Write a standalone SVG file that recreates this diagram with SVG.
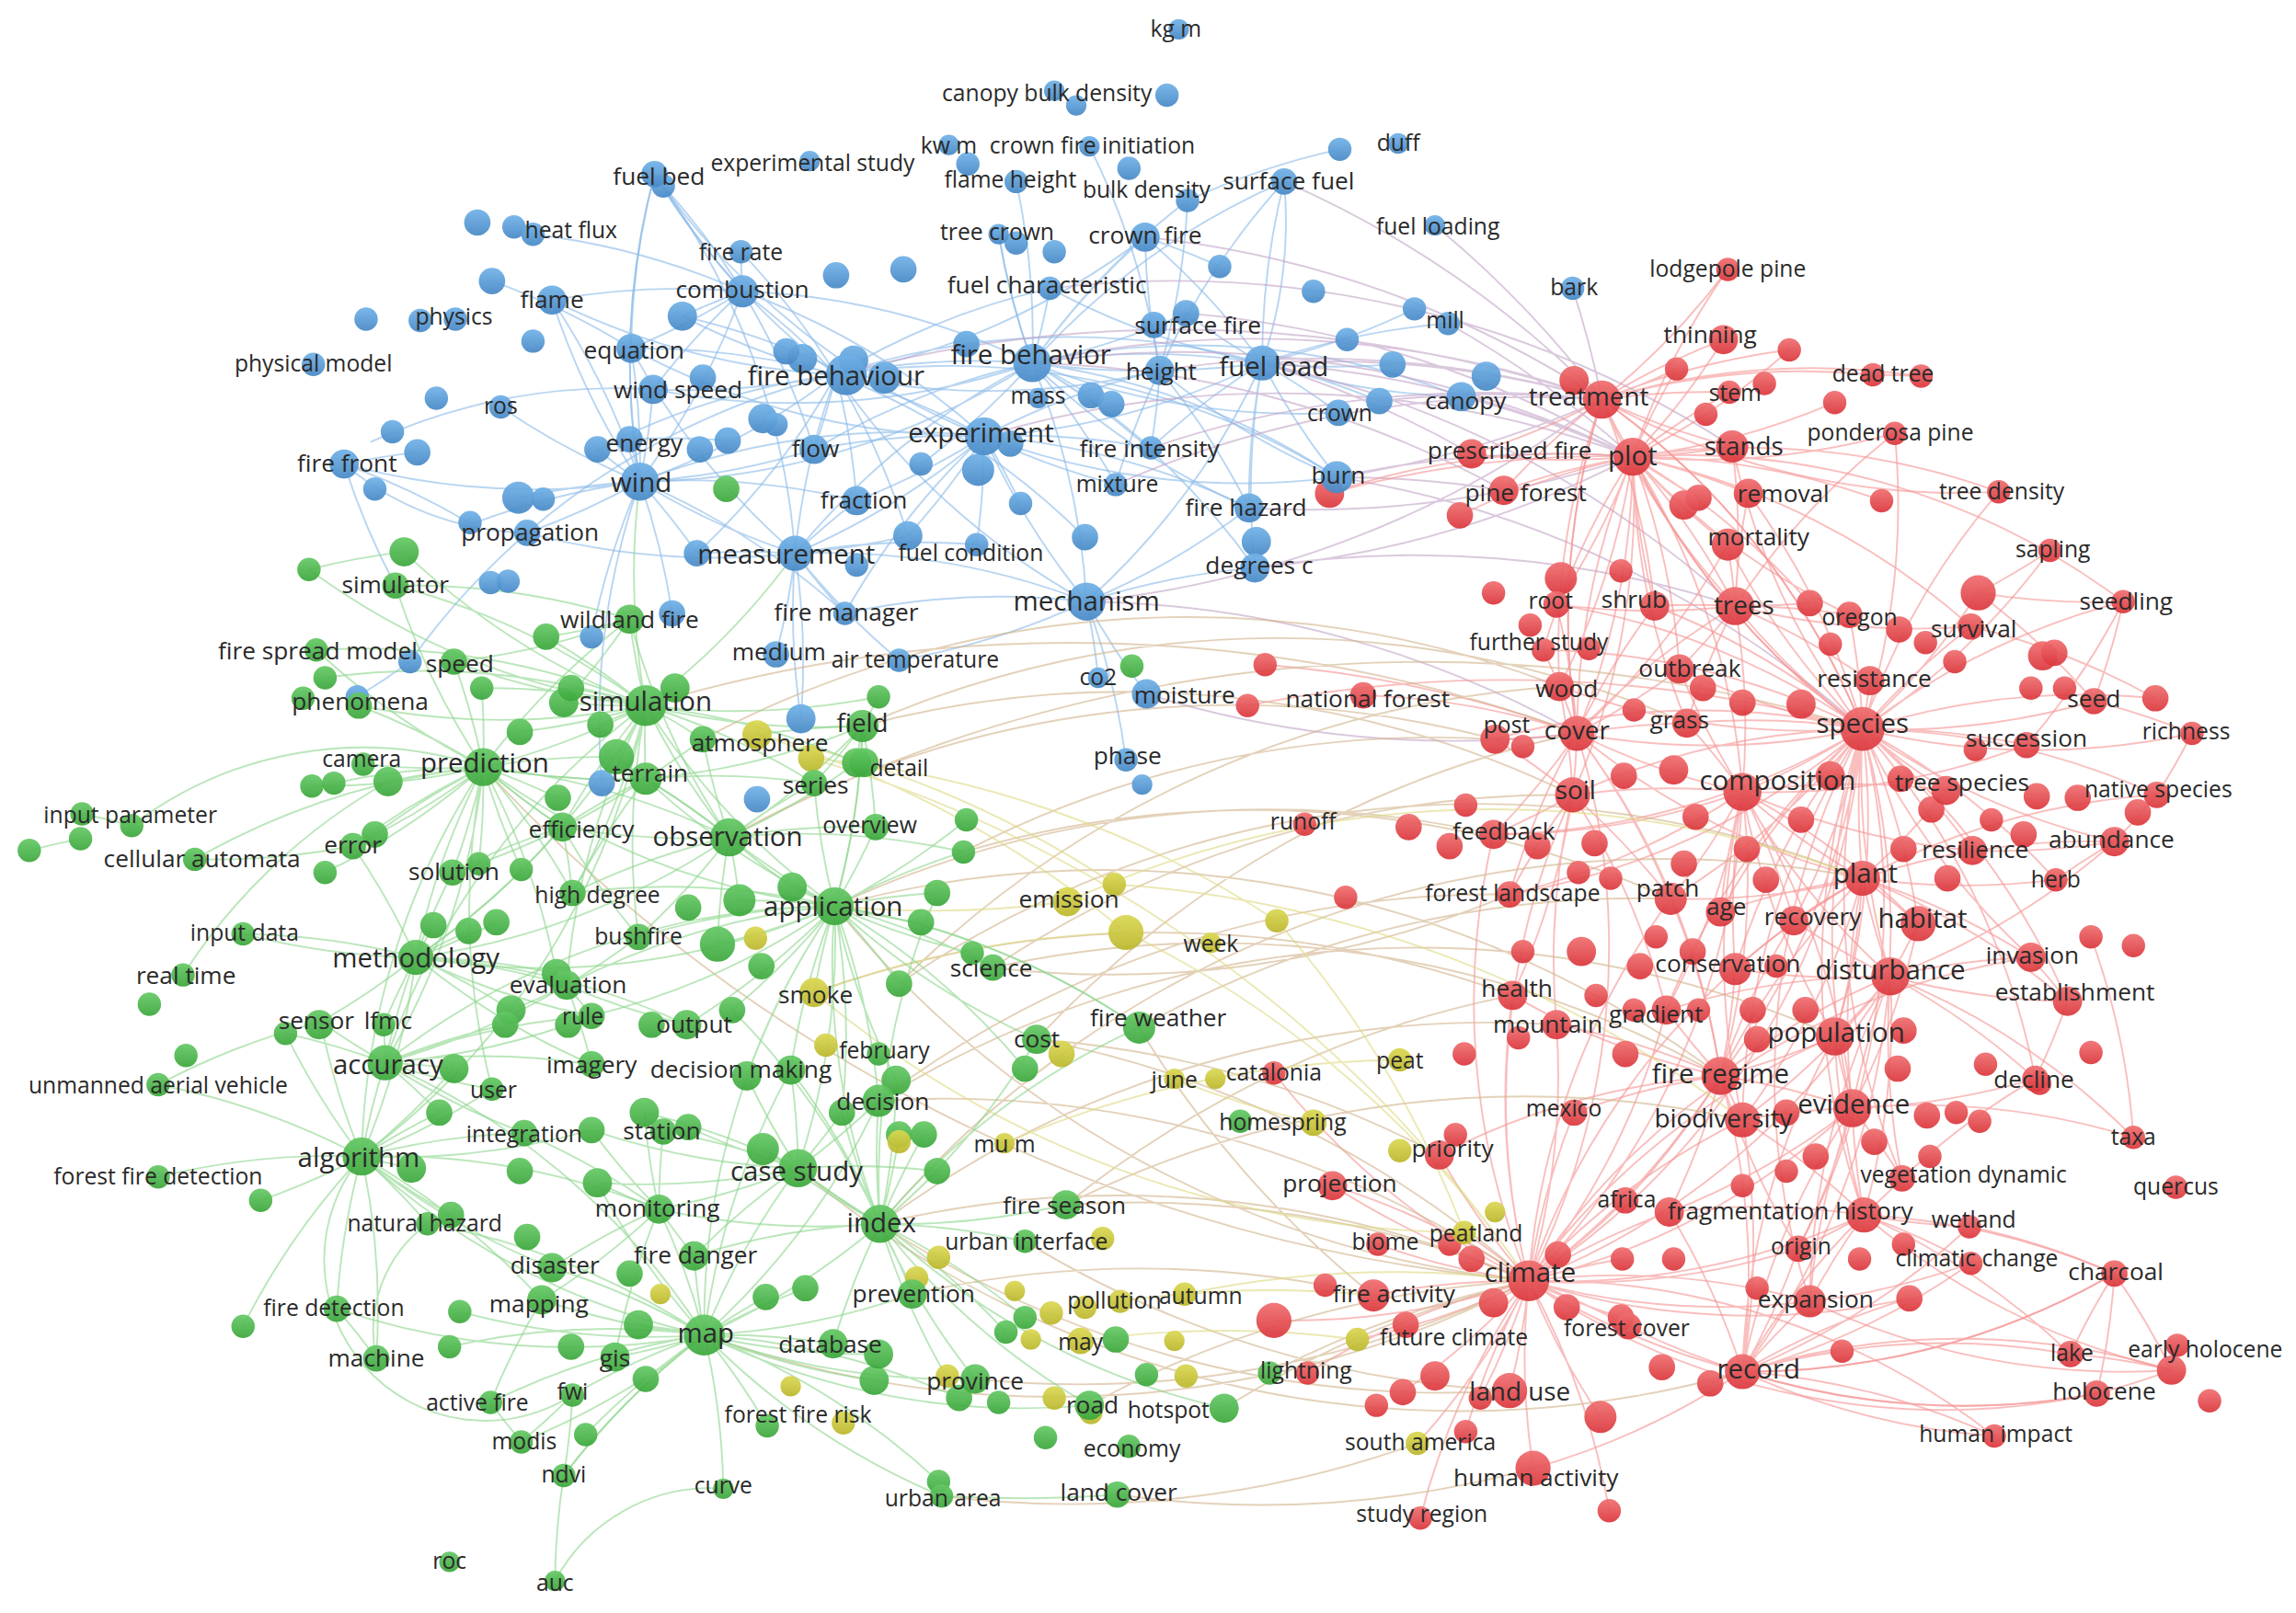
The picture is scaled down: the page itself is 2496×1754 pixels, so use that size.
<svg xmlns="http://www.w3.org/2000/svg" width="2496" height="1754" viewBox="0 0 2496 1754">
<defs>
<linearGradient id="gb" x1="0" y1="0" x2="0" y2="1"><stop offset="0" stop-color="#6fb0e6"/><stop offset="1" stop-color="#4a8bc8"/></linearGradient>
<linearGradient id="gg" x1="0" y1="0" x2="0" y2="1"><stop offset="0" stop-color="#63c763"/><stop offset="1" stop-color="#3ea93e"/></linearGradient>
<linearGradient id="gr" x1="0" y1="0" x2="0" y2="1"><stop offset="0" stop-color="#ef6c6e"/><stop offset="1" stop-color="#dc3a3f"/></linearGradient>
<linearGradient id="gy" x1="0" y1="0" x2="0" y2="1"><stop offset="0" stop-color="#d9d651"/><stop offset="1" stop-color="#bdb92f"/></linearGradient>
<style>
.b{fill:url(#gb);stroke:url(#gb)}.g{fill:url(#gg);stroke:url(#gg)}.r{fill:url(#gr);stroke:url(#gr)}.y{fill:url(#gy);stroke:url(#gy)}
circle{opacity:.93;stroke-width:2}
text{font-family:"Open Sans","Noto Sans","DejaVu Sans",sans-serif;fill:#2a2a2a;text-anchor:middle;dominant-baseline:central}
.s{font-size:15.5px}.m{font-size:16.5px}.ml{font-size:17.5px}.l{font-size:18.5px}
#edges path{fill:none;stroke-width:1.2;opacity:.62}
.eb{stroke:#8cbbe8}.eg{stroke:#8fd68f}.er{stroke:#f59696}.ep{stroke:#c4a6c8}.ebr{stroke:#d2b48e}.ey{stroke:#dfda86}
</style>
</defs>
<rect width="2496" height="1754" fill="#ffffff"/>
<g transform="scale(1.5918)">
<g id="edges">
<path class="eb" d="M571 256A500 500 0 0 1 437 329M571 256A500 500 0 0 0 507 199M571 256A500 500 0 0 1 672 298M571 256A500 500 0 0 1 705 248M571 256A500 500 0 0 0 543 378M571 256A500 500 0 0 1 556 307M571 256A500 500 0 0 1 585 342M571 256A500 500 0 0 1 447 119M571 256A500 500 0 0 1 377 205M571 256A500 500 0 0 0 431 238M571 256A500 500 0 0 1 446 266M571 256A500 500 0 0 0 408 307M571 256A500 500 0 0 1 862 248M571 256A500 500 0 0 0 792 253M571 256A500 500 0 0 1 741 367M571 256A500 500 0 0 1 620 366M571 256A500 500 0 0 0 782 162M571 256A500 500 0 0 1 717 197M571 256A500 500 0 0 0 360 364M571 256A500 500 0 0 1 476 378M571 256A500 500 0 0 0 742 411M571 256A500 500 0 0 1 466 216M571 256A500 500 0 0 1 913 326M571 256A500 500 0 0 0 506 172"/>
<path class="eb" d="M705 248A500 500 0 0 1 862 248M705 248A500 500 0 0 0 792 253M705 248A500 500 0 0 1 782 162M705 248A500 500 0 0 0 717 197M705 248A500 500 0 0 1 811 137M705 248A500 500 0 0 0 694 124M705 248A500 500 0 0 1 877 124M705 248A500 500 0 0 1 913 326M705 248A500 500 0 0 0 853 347M705 248A500 500 0 0 1 786 306M705 248A500 500 0 0 1 742 411M705 248A500 500 0 0 0 543 378M705 248A500 500 0 0 1 437 329M705 248A500 500 0 0 0 507 199M705 248A500 500 0 0 1 745 270M705 248A500 500 0 0 1 682 160M705 248A500 500 0 0 1 998 271M705 248A500 500 0 0 0 914 282M705 248A500 500 0 0 1 762 331M705 248A500 500 0 0 0 556 307M705 248A500 500 0 0 1 629 317M705 248A500 500 0 0 0 810 214M705 248A500 500 0 0 1 857 388M705 248A500 500 0 0 1 446 266"/>
<path class="eb" d="M672 298A500 500 0 0 1 543 378M672 298A500 500 0 0 0 437 329M672 298A500 500 0 0 1 585 342M672 298A500 500 0 0 0 556 307M672 298A500 500 0 0 1 786 306M672 298A500 500 0 0 0 742 411M672 298A500 500 0 0 1 792 253M672 298A500 500 0 0 0 862 248M672 298A500 500 0 0 1 697 344M672 298A500 500 0 0 1 620 366M672 298A500 500 0 0 0 762 331M672 298A500 500 0 0 1 667 372M672 298A500 500 0 0 0 507 199M672 298A500 500 0 0 1 447 119M672 298A500 500 0 0 0 913 326M672 298A500 500 0 0 1 431 238M672 298A500 500 0 0 0 577 419M672 298A500 500 0 0 1 853 347"/>
<path class="eb" d="M437 329A500 500 0 0 1 360 364M437 329A500 500 0 0 0 322 358M437 329A500 500 0 0 1 235 317M437 329A500 500 0 0 0 446 266M437 329A500 500 0 0 1 408 307M437 329A500 500 0 0 0 431 238M437 329A500 500 0 0 1 377 205M437 329A500 500 0 0 0 543 378M437 329A500 500 0 0 1 476 378M437 329A500 500 0 0 0 507 199M437 329A500 500 0 0 1 342 278M437 329A500 500 0 0 0 556 307M437 329A500 500 0 0 1 585 342M437 329A500 500 0 0 0 430 300M437 329A500 500 0 0 1 447 119M437 329A500 500 0 0 0 354 340M437 329A500 500 0 0 1 577 419M437 329A500 500 0 0 1 459 419"/>
<path class="eb" d="M543 378A500 500 0 0 1 585 342M543 378A500 500 0 0 0 476 378M543 378A500 500 0 0 1 667 372M543 378A500 500 0 0 0 577 419M543 378A500 500 0 0 1 530 447M543 378A500 500 0 0 0 614 451M543 378A500 500 0 0 1 742 411M543 378A500 500 0 0 0 620 366M543 378A500 500 0 0 1 431 238M543 378A500 500 0 0 0 447 119M543 378A500 500 0 0 1 360 364M543 378A500 500 0 0 0 547 491"/>
<path class="eb" d="M862 248A500 500 0 0 1 792 253M862 248A500 500 0 0 0 913 326M862 248A500 500 0 0 1 914 282M862 248A500 500 0 0 0 853 347M862 248A500 500 0 0 1 942 274M862 248A500 500 0 0 0 998 271M862 248A500 500 0 0 1 877 124M862 248A500 500 0 0 0 782 162M862 248A500 500 0 0 1 810 214M862 248A500 500 0 0 0 951 249M862 248A500 500 0 0 1 989 221M862 248A500 500 0 0 0 786 306M862 248A500 500 0 0 1 742 411M862 248A500 500 0 0 0 857 388M862 248A500 500 0 0 1 717 197"/>
<path class="eb" d="M507 199A500 500 0 0 1 447 119M507 199A500 500 0 0 0 377 205M507 199A500 500 0 0 1 431 238M507 199A500 500 0 0 0 466 216M507 199A500 500 0 0 1 506 172M507 199A500 500 0 0 0 446 266M507 199A500 500 0 0 1 556 307M507 199A500 500 0 0 0 364 160M792 253A500 500 0 0 1 782 162M792 253A500 500 0 0 0 811 137M792 253A500 500 0 0 1 877 124M792 253A500 500 0 0 0 810 214M792 253A500 500 0 0 1 786 306M792 253A500 500 0 0 0 762 331M792 253A500 500 0 0 1 853 347M792 253A500 500 0 0 0 913 326M742 411A500 500 0 0 1 857 388M742 411A500 500 0 0 0 853 347M742 411A500 500 0 0 1 614 451M742 411A500 500 0 0 0 577 419M742 411A500 500 0 0 1 750 463M742 411A500 500 0 0 0 783 474M742 411A500 500 0 0 1 769 519"/>
<path class="eb" d="M235 317A500 500 0 0 1 285 309M235 317A200 200 0 0 0 360 364M253 302A400 400 0 0 1 446 266M235 317A500 500 0 0 0 270 400M280 452A500 500 0 0 1 360 364M244 476A500 500 0 0 0 280 452M447 119A500 500 0 0 0 431 238M453 127A500 500 0 0 1 507 199M447 119A500 500 0 0 0 437 329M877 124A300 300 0 0 1 862 248M811 137A500 500 0 0 1 915 102M782 162A500 500 0 0 1 833 182M235 317A500 500 0 0 1 322 358M430 300A500 500 0 0 1 497 301M336 192A500 500 0 0 1 431 238M377 205A500 500 0 0 1 437 329M466 216A500 500 0 0 1 578 256M682 160A500 500 0 0 0 705 248M744 100A500 500 0 0 1 792 253M966 211A500 500 0 0 1 862 248M404 435A500 500 0 0 1 437 329M547 491A500 500 0 0 0 543 378M411 535A500 500 0 0 1 437 329"/>
<path class="ep" d="M862 248A700 700 0 0 1 1094 273M862 248A700 700 0 0 1 1115 312M862 248A700 700 0 0 1 1005 310M705 248A700 700 0 0 1 1094 273M705 248A700 700 0 0 1 1115 312M792 253A700 700 0 0 1 1094 273M913 326A700 700 0 0 1 1115 312M913 326A700 700 0 0 0 1094 273M913 326A700 700 0 0 1 1027 335M742 411A700 700 0 0 0 1094 273M980 154A700 700 0 0 1 1094 273M1074 197A700 700 0 0 1 1094 273M989 221A700 700 0 0 1 1115 312M998 271A700 700 0 0 1 1115 312M942 274A700 700 0 0 1 1094 273M853 347A700 700 0 0 0 1115 312M857 388A700 700 0 0 0 1115 312M782 162A700 700 0 0 1 1094 273M877 124A700 700 0 0 1 1094 273M810 214A700 700 0 0 1 1115 312M786 306A700 700 0 0 1 1094 273M571 256A900 900 0 0 1 1094 273M672 298A700 700 0 0 1 1115 312M762 331A700 700 0 0 1 1094 273M742 411A700 700 0 0 1 1077 501M857 388A700 700 0 0 1 1185 414M783 474A700 700 0 0 0 1077 501M717 197A700 700 0 0 1 1183 305M862 248A700 700 0 0 1 1185 414M705 248A700 700 0 0 1 1027 335M913 326A700 700 0 0 1 1272 498"/>
<path class="er" d="M1272 498A500 500 0 0 1 1190 541M1272 498A500 500 0 0 0 1329 540M1272 498A500 500 0 0 1 1384 509M1272 498A500 500 0 0 0 1277 465M1272 498A500 500 0 0 1 1346 428M1272 498A500 500 0 0 0 1263 420M1272 498A500 500 0 0 1 1185 414M1272 498A500 500 0 0 0 1430 479M1272 498A500 500 0 0 1 1472 477M1272 498A500 500 0 0 0 1497 501M1272 498A500 500 0 0 1 1473 543M1272 498A500 500 0 0 0 1444 575M1272 498A500 500 0 0 1 1347 581M1272 498A500 500 0 0 0 1272 600M1272 498A500 500 0 0 1 1310 631M1272 498A500 500 0 0 0 1291 667M1272 498A500 500 0 0 1 1253 708M1272 498A500 500 0 0 0 1265 757M1272 498A500 500 0 0 1 1225 629M1272 498A500 500 0 0 0 1175 623M1272 498A500 500 0 0 1 1141 614M1272 498A500 500 0 0 0 1152 494M1272 498A500 500 0 0 1 1077 501M1272 498A500 500 0 0 0 1074 543M1272 498A500 500 0 0 1 1147 457M1272 498A500 500 0 0 0 1130 414M1272 498A500 500 0 0 1 1115 312M1272 498A500 500 0 0 0 1094 273M1272 498A500 500 0 0 1 1183 305M1272 498A500 500 0 0 0 1194 337M1272 498A500 500 0 0 1 1180 372M1272 498A500 500 0 0 0 1400 376M1272 498A500 500 0 0 1 1450 411M1272 498A500 500 0 0 0 1351 405M1272 498A500 500 0 0 1 1404 601M1272 498A500 500 0 0 0 1387 654M1272 498A500 500 0 0 1 1412 684M1272 498A500 500 0 0 0 1190 765M1272 498A500 500 0 0 1 1175 735M1272 498A500 500 0 0 0 1185 662M1272 498A500 500 0 0 1 1020 570M1272 498A500 500 0 0 0 1273 830M1272 498A500 500 0 0 1 1044 875M1272 498A500 500 0 0 0 1299 805M1272 498A500 500 0 0 1 1228 853M1272 498A500 500 0 0 0 1236 889M1272 498A500 500 0 0 1 1190 937M1272 498A500 500 0 0 0 1294 296M1272 498A500 500 0 0 1 1365 336M1272 498A500 500 0 0 0 1021 505M1272 498A500 500 0 0 1 1065 469M1272 498A500 500 0 0 0 1054 444M1272 498A500 500 0 0 1 1031 611M1272 498A500 500 0 0 0 1138 690M1272 498A500 500 0 0 1 1390 737M1272 498A500 500 0 0 0 1063 413"/>
<path class="er" d="M1044 875A500 500 0 0 1 1031 950M1044 875A500 500 0 0 0 1047 1003M1044 875A500 500 0 0 1 1112 906M1044 875A500 500 0 0 0 1190 937M1044 875A500 500 0 0 1 1236 889M1044 875A500 500 0 0 0 1228 853M1044 875A500 500 0 0 1 1140 828M1044 875A500 500 0 0 0 1110 820M1044 875A500 500 0 0 1 1075 760M1044 875A500 500 0 0 0 1000 842M1044 875A500 500 0 0 1 941 850M1044 875A500 500 0 0 0 938 885M1044 875A500 500 0 0 1 927 915M1044 875A500 500 0 0 0 910 810M1044 875A500 500 0 0 1 983 789M1044 875A500 500 0 0 0 1063 700M1044 875A500 500 0 0 1 1033 680M1044 875A500 500 0 0 0 1175 735M1044 875A500 500 0 0 1 1190 765M1044 875A500 500 0 0 0 1265 757M1044 875A500 500 0 0 1 1253 708M1044 875A500 500 0 0 0 1291 667M1044 875A500 500 0 0 1 1272 600M1044 875A500 500 0 0 0 1190 541M1044 875A500 500 0 0 1 1074 543M1044 875A500 500 0 0 0 1077 501M1044 875A500 500 0 0 1 1099 1032M1044 875A500 500 0 0 0 970 1037M1044 875A500 500 0 0 1 968 986M1044 875A500 500 0 0 0 893 938M1044 875A500 500 0 0 1 870 902M1044 875A500 500 0 0 0 1138 690M1044 875A500 500 0 0 1 1020 570M1044 875A500 500 0 0 0 1432 952M1044 875A500 500 0 0 1 1362 981M1044 875A500 500 0 0 0 1273 830M1044 875A500 500 0 0 1 1141 614M1044 875A500 500 0 0 0 1005 860M1044 875A500 500 0 0 1 1020 890M1044 875A500 500 0 0 0 1064 857M1044 875A500 500 0 0 1 1108 860M1044 875A500 500 0 0 0 1107 900M1044 875A500 500 0 0 1 1070 893M1044 875A500 500 0 0 0 1001 978M1044 875A500 500 0 0 1 958 951M1044 875A500 500 0 0 0 1093 968M1044 875A500 500 0 0 1 1011 955M1044 875A500 500 0 0 0 1346 863M1044 875A500 500 0 0 1 1387 654M1044 875A500 500 0 0 0 1304 887M1044 875A500 500 0 0 1 870 733M1044 875A700 700 0 0 1 910 810"/>
<path class="er" d="M1115 312A500 500 0 0 1 1094 273M1115 312A500 500 0 0 0 1183 305M1115 312A500 500 0 0 1 1194 337M1115 312A500 500 0 0 0 1180 372M1115 312A500 500 0 0 1 1185 414M1115 312A500 500 0 0 0 1130 414M1115 312A500 500 0 0 1 1063 413M1115 312A500 500 0 0 0 1027 335M1115 312A500 500 0 0 1 1005 310M1115 312A500 500 0 0 0 1177 232M1115 312A500 500 0 0 1 1181 268M1115 312A500 500 0 0 0 1294 296M1115 312A500 500 0 0 1 1365 336M1115 312A500 500 0 0 0 1272 498M1115 312A500 500 0 0 1 1190 541M1115 312A500 500 0 0 0 1077 501M1115 312A500 500 0 0 1 1074 543M1115 312A500 500 0 0 0 1054 444M1115 312A500 500 0 0 1 1147 457M1115 312A500 500 0 0 0 1263 420M1115 312A500 500 0 0 1 1346 428M1115 312A500 500 0 0 0 1152 494M1115 312A500 500 0 0 1 1065 469M1115 312A500 500 0 0 0 1222 239M1115 312A500 500 0 0 1 1145 252M1115 312A500 500 0 0 0 1253 275M1115 312A500 500 0 0 1 1285 342M1115 312A500 500 0 0 0 1160 340M1115 312A500 500 0 0 1 1236 412M1115 312A500 500 0 0 0 997 352M1115 312A500 500 0 0 1 1450 411M1115 312A500 500 0 0 0 908 337M1115 312A500 500 0 0 1 1180 184"/>
<path class="er" d="M1094 273A500 500 0 0 1 1177 232M1094 273A500 500 0 0 0 1183 305M1094 273A500 500 0 0 1 1181 268M1094 273A500 500 0 0 0 1027 335M1094 273A500 500 0 0 1 1005 310M1094 273A500 500 0 0 0 1180 184M1094 273A500 500 0 0 1 1279 256M1094 273A500 500 0 0 0 1185 414M1094 273A500 500 0 0 1 1272 498M1094 273A500 500 0 0 0 1077 501M1094 273A500 500 0 0 1 1130 414M1094 273A500 500 0 0 0 1065 469M1094 273A500 500 0 0 1 1222 239M1094 273A500 500 0 0 0 1145 252M1094 273A500 500 0 0 1 1312 257M1094 273A500 500 0 0 0 1365 336"/>
<path class="er" d="M1190 541A500 500 0 0 1 1141 614M1190 541A500 500 0 0 0 1175 623M1190 541A500 500 0 0 1 1225 629M1190 541A500 500 0 0 0 1272 600M1190 541A500 500 0 0 1 1310 631M1190 541A500 500 0 0 0 1291 667M1190 541A500 500 0 0 1 1329 540M1190 541A500 500 0 0 0 1185 414M1190 541A500 500 0 0 1 1147 457M1190 541A500 500 0 0 0 1152 494M1190 541A500 500 0 0 1 1077 501M1190 541A500 500 0 0 0 1074 543M1190 541A500 500 0 0 1 1020 570M1190 541A500 500 0 0 0 1253 708M1190 541A500 500 0 0 1 1175 735M1190 541A500 500 0 0 0 1185 662M1190 541A500 500 0 0 1 1138 690M1190 541A500 500 0 0 0 1347 581M1190 541A500 500 0 0 1 1265 757M1190 541A500 500 0 0 0 1190 765M1190 541A500 500 0 0 1 1031 611M1190 541A500 500 0 0 0 1384 509M1077 501A500 500 0 0 1 1074 543M1077 501A500 500 0 0 0 1065 469M1077 501A500 500 0 0 1 1021 505M1077 501A500 500 0 0 0 1054 444M1077 501A500 500 0 0 1 1152 494M1077 501A500 500 0 0 0 1147 457M1077 501A500 500 0 0 1 1130 414M1077 501A500 500 0 0 0 1063 413M1077 501A500 500 0 0 1 1020 570M1077 501A500 500 0 0 0 931 475M1077 501A500 500 0 0 1 1141 614M1077 501A500 500 0 0 0 1031 611M1077 501A500 500 0 0 1 1185 414M1077 501A500 500 0 0 0 1272 600M1077 501A500 500 0 0 1 1175 735M1077 501A500 500 0 0 0 1115 312M1077 501A500 500 0 0 1 1094 273M1077 501A500 500 0 0 0 1180 372"/>
<path class="er" d="M1272 600A500 500 0 0 1 1310 631M1272 600A500 500 0 0 0 1291 667M1272 600A500 500 0 0 1 1253 708M1272 600A500 500 0 0 0 1225 629M1272 600A500 500 0 0 1 1347 581M1272 600A500 500 0 0 0 1404 601M1272 600A500 500 0 0 1 1387 654M1272 600A500 500 0 0 0 1329 540M1272 600A500 500 0 0 1 1444 575M1272 600A500 500 0 0 0 1265 757M1272 600A500 500 0 0 1 1190 765M1272 600A500 500 0 0 0 1185 662M1272 600A500 500 0 0 1 1141 614M1272 600A500 500 0 0 0 1175 623M1272 600A500 500 0 0 1 1412 684M1272 600A500 500 0 0 0 1175 735M1272 600A500 500 0 0 1 1473 543M1291 667A500 500 0 0 1 1253 708M1291 667A500 500 0 0 0 1265 757M1291 667A500 500 0 0 1 1387 654M1291 667A500 500 0 0 0 1412 684M1291 667A500 500 0 0 1 1390 737M1291 667A500 500 0 0 0 1175 735M1291 667A500 500 0 0 1 1190 765M1291 667A500 500 0 0 0 1310 631M1291 667A500 500 0 0 1 1185 662M1291 667A500 500 0 0 0 1138 690M1291 667A500 500 0 0 1 1273 830M1291 667A500 500 0 0 0 1236 889M1291 667A500 500 0 0 1 1457 777M1291 667A500 500 0 0 0 1299 805M1291 667A500 500 0 0 1 1225 629M1291 667A500 500 0 0 0 1444 575"/>
<path class="er" d="M1190 937A500 500 0 0 1 1236 889M1190 937A500 500 0 0 0 1228 853M1190 937A500 500 0 0 1 1273 830M1190 937A500 500 0 0 0 1432 952M1190 937A500 500 0 0 1 1414 925M1190 937A500 500 0 0 0 1444 870M1190 937A500 500 0 0 1 1483 936M1190 937A500 500 0 0 0 1362 981M1190 937A500 500 0 0 1 1112 906M1190 937A500 500 0 0 0 1140 828M1190 937A500 500 0 0 1 1265 757M1190 937A500 500 0 0 0 1175 735M1190 937A500 500 0 0 1 1047 1003M1190 937A500 500 0 0 0 1346 863M1190 937A500 500 0 0 1 1304 887M1190 937A500 500 0 0 0 1168 945M1190 937A500 500 0 0 1 1258 923M1190 937A500 500 0 0 0 1190 765M1190 937A500 500 0 0 1 1253 708M1190 937A500 500 0 0 0 1345 838M1175 735A500 500 0 0 1 1138 690M1175 735A500 500 0 0 0 1063 700M1175 735A500 500 0 0 1 1033 680M1175 735A500 500 0 0 0 1075 760M1175 735A500 500 0 0 1 1190 765M1175 735A500 500 0 0 0 1253 708M1175 735A500 500 0 0 1 1265 757M1175 735A500 500 0 0 0 1185 662M1175 735A500 500 0 0 1 1110 820M1175 735A500 500 0 0 0 983 789M1175 735A500 500 0 0 1 1225 629M1175 735A500 500 0 0 0 1141 614M1175 735A500 500 0 0 1 1140 828M1175 735A500 500 0 0 0 1228 853"/>
<path class="er" d="M1273 830A500 500 0 0 1 1228 853M1273 830A500 500 0 0 0 1236 889M1273 830A500 500 0 0 1 1346 863M1273 830A500 500 0 0 0 1345 838M1273 830A500 500 0 0 1 1444 870M1273 830A500 500 0 0 0 1483 936M1273 830A500 500 0 0 1 1414 925M1273 830A500 500 0 0 0 1299 805M1273 830A500 500 0 0 1 1265 757M1273 830A500 500 0 0 0 1190 765M1273 830A500 500 0 0 1 1253 708M1273 830A500 500 0 0 0 1140 828M1265 757A500 500 0 0 1 1299 805M1265 757A500 500 0 0 0 1390 737M1265 757A500 500 0 0 1 1253 708M1265 757A500 500 0 0 0 1190 765M1265 757A500 500 0 0 1 1457 777M1265 757A500 500 0 0 0 1310 631M1265 757A500 500 0 0 1 1228 853M1265 757A500 500 0 0 0 1236 889M1265 757A500 500 0 0 1 1140 828M1185 414A500 500 0 0 1 1263 420M1185 414A500 500 0 0 0 1130 414M1185 414A500 500 0 0 1 1147 457M1185 414A500 500 0 0 0 1180 372M1185 414A500 500 0 0 1 1194 337M1185 414A500 500 0 0 0 1183 305M1185 414A500 500 0 0 1 1277 465M1185 414A500 500 0 0 0 1346 428M1185 414A500 500 0 0 1 1294 296M1185 414A500 500 0 0 0 1152 494M1185 414A500 500 0 0 1 1063 413M1185 414A500 500 0 0 0 1236 412M1074 543A500 500 0 0 1 1020 570M1074 543A500 500 0 0 0 1065 469M1074 543A500 500 0 0 1 1141 614M1074 543A500 500 0 0 0 1031 611M1074 543A500 500 0 0 1 1033 680M1074 543A500 500 0 0 0 1021 505M1074 543A500 500 0 0 1 1138 690M1074 543A500 500 0 0 0 1063 700"/>
<path class="er" d="M1444 870A500 500 0 0 1 1483 936M1444 870A500 500 0 0 0 1414 925M1444 870A500 500 0 0 1 1432 952M1414 925A500 500 0 0 1 1483 936M1432 952A500 500 0 0 0 1483 936M1190 937A500 500 0 0 0 1432 952M1497 501A500 500 0 0 1 1473 543M1473 543A500 500 0 0 1 1444 575M1430 479A500 500 0 0 0 1450 411M1457 777A500 500 0 0 0 1428 640M1390 737A500 500 0 0 0 1412 684M1450 411A500 500 0 0 1 1384 509M1497 501A500 500 0 0 0 1430 479M1400 376A500 500 0 0 1 1351 405M1362 981A500 500 0 0 0 1190 937M1483 936A500 500 0 0 1 1236 889M1444 870A500 500 0 0 1 1190 937M1272 498A900 900 0 0 0 852 482M1115 312A700 700 0 0 0 908 337M1077 501A800 800 0 0 0 864 454M1279 256A500 500 0 0 1 1312 257M1351 405A500 500 0 0 1 1430 479M1351 405A500 500 0 0 0 1450 411M1346 428A500 500 0 0 1 1472 477M1347 581A500 500 0 0 0 1444 575M1404 601A500 500 0 0 1 1444 575M1387 654A500 500 0 0 1 1412 684M1299 805A500 500 0 0 1 1390 737M1345 838A500 500 0 0 1 1444 870"/>
<path class="ebr" d="M570 619A700 700 0 0 0 1044 875M601 836A700 700 0 0 1 1044 875M601 836A700 700 0 0 0 1031 950M481 912A700 700 0 0 0 1044 875M708 710A700 700 0 0 1 1044 875M728 823A700 700 0 0 1 1044 875M778 702A700 700 0 0 0 938 885M700 848A700 700 0 0 0 1031 950M744 960A700 700 0 0 1 1044 875M836 962A700 700 0 0 1 1044 875M498 572A1000 1000 0 0 1 1272 498M441 482A1000 1000 0 0 1 1077 501M330 524A1100 1100 0 0 0 1044 875M570 619A700 700 0 0 1 1175 735M678 661A700 700 0 0 1 1175 735M614 672A700 700 0 0 1 1272 600M589 496A700 700 0 0 1 1074 543M600 752A700 700 0 0 1 1044 875M545 798A700 700 0 0 0 1190 937M666 942A700 700 0 0 0 1044 875M763 1021A700 700 0 0 0 1047 1003M643 1022A700 700 0 0 0 968 986M623 884A700 700 0 0 1 938 885M601 836A700 700 0 0 1 1272 600M570 619A700 700 0 0 1 1020 570M498 572A700 700 0 0 1 1021 505M556 678A700 700 0 0 1 1033 680M658 582A700 700 0 0 1 1141 614M678 661A700 700 0 0 0 1031 611M600 752A700 700 0 0 1 1253 708M480 505A700 700 0 0 1 1065 469M708 710A700 700 0 0 1 983 789M728 823A700 700 0 0 1 1190 765M867 938A700 700 0 0 1 1044 875M1077 501A700 700 0 0 0 708 710M1074 543A700 700 0 0 0 678 661M1152 494A700 700 0 0 0 589 496M1020 570A700 700 0 0 0 570 619M1065 469A700 700 0 0 0 614 672M1021 505A700 700 0 0 0 658 582M1031 611A700 700 0 0 0 600 752M1033 680A700 700 0 0 0 728 823M1063 700A700 700 0 0 0 601 836M1141 614A700 700 0 0 0 778 702"/>
<path class="ey" d="M769 637A700 700 0 0 0 556 678M769 637A700 700 0 0 1 1044 875M761 604A700 700 0 0 0 517 502M729 616A700 700 0 0 1 570 619M872 629A700 700 0 0 1 1000 842M556 678A700 700 0 0 0 1000 842M809 884A700 700 0 0 1 1044 875M765 889A700 700 0 0 1 938 885M517 502A700 700 0 0 1 769 637M554 518A700 700 0 0 1 872 629M686 781A700 700 0 0 1 956 724M802 737A700 700 0 0 0 897 767M738 916A700 700 0 0 1 927 915M729 616A700 700 0 0 1 1272 600M554 518A900 900 0 0 1 1044 875M761 604A800 800 0 0 1 1190 765"/>
<path class="eg" d="M441 482A500 500 0 0 1 330 524M441 482A500 500 0 0 0 441 532M441 482A500 500 0 0 1 421 517M441 482A500 500 0 0 0 410 495M441 482A500 500 0 0 1 385 480M441 482A500 500 0 0 0 373 435M441 482A500 500 0 0 1 430 423M441 482A500 500 0 0 0 329 470M441 482A500 500 0 0 1 310 452M441 482A500 500 0 0 0 270 400M441 482A500 500 0 0 1 276 377M441 482A500 500 0 0 0 216 444M441 482A500 500 0 0 1 245 482M441 482A500 500 0 0 0 498 572M441 482A500 500 0 0 1 480 505M441 482A500 500 0 0 0 589 496M441 482A500 500 0 0 1 556 535M441 482A500 500 0 0 0 384 565M441 482A500 500 0 0 1 391 610M441 482A500 500 0 0 0 570 619M441 482A500 500 0 0 1 284 654M441 482A500 500 0 0 0 387 673M441 482A500 500 0 0 1 247 790M441 482A500 500 0 0 0 263 726M441 482A500 500 0 0 1 461 470M441 482A500 500 0 0 0 600 476M441 482A500 500 0 0 1 211 389M441 482A500 500 0 0 0 222 463M441 482A500 500 0 0 1 355 500M441 482A500 500 0 0 0 390 470M441 482A500 500 0 0 1 585 521M441 482A500 500 0 0 0 436 640M441 482A500 500 0 0 1 437 329M441 482A500 500 0 0 0 543 378"/>
<path class="eg" d="M330 524A500 500 0 0 1 248 522M330 524A500 500 0 0 0 265 534M330 524A500 500 0 0 1 241 578M330 524A500 500 0 0 0 256 570M330 524A500 500 0 0 1 222 596M330 524A500 500 0 0 0 133 587M330 524A500 500 0 0 1 309 596M330 524A500 500 0 0 0 284 654M330 524A500 500 0 0 1 263 726M330 524A500 500 0 0 0 247 790M330 524A500 500 0 0 1 391 610M330 524A500 500 0 0 0 384 565M330 524A500 500 0 0 1 498 572M330 524A500 500 0 0 0 570 619M330 524A500 500 0 0 1 421 517M330 524A500 500 0 0 0 310 452M330 524A500 500 0 0 1 270 400M330 524A500 500 0 0 0 245 482M330 524A500 500 0 0 1 380 665M330 524A500 500 0 0 0 336 744M330 524A500 500 0 0 1 213 537M330 524A500 500 0 0 0 228 535M330 524A500 500 0 0 1 381 545M330 524A500 500 0 0 0 356 594M330 524A500 500 0 0 1 327 590M330 524A500 500 0 0 0 441 532M330 524A500 500 0 0 1 216 444M330 524A500 500 0 0 0 329 470M90 564A260 260 0 0 1 330 524M125 666A400 400 0 0 1 265 534M133 587A500 500 0 0 0 241 578M241 578A500 500 0 0 1 330 524M166 638A500 500 0 0 1 284 654M108 741A500 500 0 0 1 219 698M108 804A500 500 0 0 1 247 790M56 556A500 500 0 0 1 90 564M20 581A500 500 0 0 1 55 573M211 389A500 500 0 0 1 276 377M230 894A500 500 0 0 1 257 928"/>
<path class="eg" d="M441 532A500 500 0 0 1 330 524M441 532A500 500 0 0 0 384 565M441 532A500 500 0 0 1 498 572M441 532A500 500 0 0 0 570 619M441 532A500 500 0 0 1 421 517M441 532A500 500 0 0 0 480 505M441 532A500 500 0 0 1 556 535M441 532A500 500 0 0 0 589 496M441 532A500 500 0 0 1 309 596M441 532A500 500 0 0 0 391 610M384 565A500 500 0 0 1 330 524M384 565A500 500 0 0 0 309 596M384 565A500 500 0 0 1 391 610M384 565A500 500 0 0 0 436 640M384 565A500 500 0 0 1 284 654M589 496A500 500 0 0 1 556 535M589 496A500 500 0 0 0 585 521M589 496A500 500 0 0 1 598 565M589 496A500 500 0 0 0 600 476M589 496A500 500 0 0 1 570 619M589 496A500 500 0 0 0 517 502M430 423A500 500 0 0 1 373 435M430 423A500 500 0 0 0 330 524M430 423A500 500 0 0 1 385 480M430 423A500 500 0 0 0 270 400M430 423A500 500 0 0 1 310 452M430 423A500 500 0 0 0 498 572M387 673A500 500 0 0 1 404 694M387 673A500 500 0 0 0 469 700M387 673A500 500 0 0 1 349 690M387 673A500 500 0 0 0 436 640M387 673A500 500 0 0 1 404 727"/>
<path class="eg" d="M570 619A500 500 0 0 1 541 606M570 619A500 500 0 0 0 505 615M570 619A500 500 0 0 1 490 645M570 619A500 500 0 0 0 436 640M570 619A500 500 0 0 1 498 572M570 619A500 500 0 0 0 598 565M570 619A500 500 0 0 1 658 582M570 619A500 500 0 0 0 629 630M570 619A500 500 0 0 1 614 672M570 619A500 500 0 0 0 556 678M570 619A500 500 0 0 1 469 700M570 619A500 500 0 0 0 540 731M570 619A500 500 0 0 1 600 752M570 619A500 500 0 0 0 601 836M570 619A500 500 0 0 1 545 798M570 619A500 500 0 0 0 481 912M570 619A500 500 0 0 1 404 694M570 619A500 500 0 0 0 387 673M570 619A500 500 0 0 1 284 654M570 619A500 500 0 0 0 263 726M570 619A500 500 0 0 1 678 661M570 619A500 500 0 0 0 708 710M570 619A500 500 0 0 1 778 702M570 619A500 500 0 0 0 664 651M570 619A500 500 0 0 1 640 610M570 619A500 500 0 0 0 660 560M570 619A500 500 0 0 1 500 690M570 619A500 500 0 0 0 510 735M570 619A500 500 0 0 1 575 760M570 619A500 500 0 0 0 612 738M570 619A500 500 0 0 1 700 730M570 619A500 500 0 0 0 589 496M570 619A500 500 0 0 1 556 535M570 619A500 500 0 0 0 391 610"/>
<path class="eg" d="M481 912A500 500 0 0 1 420 927M481 912A500 500 0 0 0 391 953M481 912A500 500 0 0 1 370 888M481 912A500 500 0 0 0 377 866M481 912A500 500 0 0 1 474 858M481 912A500 500 0 0 0 450 826M481 912A500 500 0 0 1 545 798M481 912A500 500 0 0 0 601 836M481 912A500 500 0 0 1 569 918M481 912A500 500 0 0 0 623 884M481 912A500 500 0 0 1 524 974M481 912A500 500 0 0 0 666 942M481 912A500 500 0 0 1 494 1017M481 912A500 500 0 0 0 385 1008M481 912A500 500 0 0 1 356 985M481 912A500 500 0 0 0 335 958M481 912A500 500 0 0 1 441 942M481 912A500 500 0 0 0 436 905M481 912A500 500 0 0 1 523 886M481 912A500 500 0 0 0 597 943M481 912A500 500 0 0 1 641 1012M481 912A500 500 0 0 0 744 960M481 912A500 500 0 0 1 247 790M481 912A500 500 0 0 0 263 726M481 912A500 500 0 0 1 550 880M481 912A500 500 0 0 0 600 925M481 912A500 500 0 0 1 655 955M481 912A500 500 0 0 0 400 980M481 912A500 500 0 0 1 314 896M481 912A500 500 0 0 0 307 920M481 912A500 500 0 0 1 408 808M481 912A500 500 0 0 0 292 836M481 912A500 500 0 0 1 230 894M481 912A500 500 0 0 0 600 752M481 912A500 500 0 0 1 540 731M481 912A500 500 0 0 0 643 1022M643 1022A900 900 0 0 0 763 1021"/>
<path class="eg" d="M601 836A500 500 0 0 1 545 798M601 836A500 500 0 0 0 569 918M601 836A500 500 0 0 1 623 884M601 836A500 500 0 0 0 666 942M601 836A500 500 0 0 1 700 848M601 836A500 500 0 0 0 728 823M601 836A500 500 0 0 1 631 775M601 836A500 500 0 0 0 614 775M601 836A500 500 0 0 1 600 752M601 836A500 500 0 0 0 540 731M601 836A500 500 0 0 1 450 826M601 836A500 500 0 0 0 474 858M601 836A500 500 0 0 1 522 784M601 836A500 500 0 0 0 640 800M601 836A500 500 0 0 1 778 702M601 836A500 500 0 0 0 708 710M601 836A500 500 0 0 1 700 900M601 836A500 500 0 0 0 655 955M601 836A500 500 0 0 1 687 910M601 836A500 500 0 0 0 744 960M601 836A500 500 0 0 1 575 760M601 836A500 500 0 0 0 612 738M601 836A500 500 0 0 1 640 610M601 836A500 500 0 0 0 500 690M601 836A500 500 0 0 0 836 962M570 619A500 500 0 0 1 778 702"/>
<path class="eg" d="M247 790A500 500 0 0 1 263 726M247 790A500 500 0 0 0 281 798M247 790A500 500 0 0 1 292 836M247 790A500 500 0 0 0 230 894M247 790A500 500 0 0 1 257 928M247 790A500 500 0 0 0 336 744M247 790A500 500 0 0 1 358 774M247 790A500 500 0 0 0 310 730M247 790A500 500 0 0 1 195 706M247 790A500 500 0 0 0 108 741M247 790A500 500 0 0 1 219 698M247 790A500 500 0 0 0 377 866M247 790A500 500 0 0 1 370 888M247 790A500 500 0 0 0 308 830M247 790A500 500 0 0 1 300 760M247 790A500 500 0 0 0 284 654M247 790A500 500 0 0 1 450 826M247 790A500 500 0 0 0 404 772M247 790A500 500 0 0 1 178 820M247 790A500 500 0 0 0 166 906M247 790A110 110 0 0 0 391 953M292 836A90 90 0 0 0 257 928M263 726A500 500 0 0 1 219 698M263 726A500 500 0 0 0 262 700M263 726A500 500 0 0 1 310 730M263 726A500 500 0 0 0 336 744M263 726A500 500 0 0 1 404 694M263 726A500 500 0 0 0 358 774M263 726A500 500 0 0 1 284 654M263 726A500 500 0 0 0 195 706M263 726A500 500 0 0 1 345 700M263 726A500 500 0 0 0 388 700M263 726A500 500 0 0 1 300 760M263 726A500 500 0 0 0 387 673M263 726A500 500 0 0 1 404 727"/>
<path class="eg" d="M284 654A500 500 0 0 1 309 596M284 654A500 500 0 0 0 262 700M284 654A500 500 0 0 1 219 698M284 654A500 500 0 0 0 339 630M284 654A500 500 0 0 1 380 665M284 654A500 500 0 0 0 404 694M284 654A500 500 0 0 1 349 690M284 654A500 500 0 0 0 498 572M284 654A500 500 0 0 1 320 636M284 654A500 500 0 0 0 296 632M284 654A500 500 0 0 1 387 673M284 654A500 500 0 0 0 241 578M284 654A500 500 0 0 1 166 638M284 654A500 500 0 0 0 404 727M284 654A500 500 0 0 1 469 700M498 572A500 500 0 0 1 384 565M498 572A500 500 0 0 0 391 610M498 572A500 500 0 0 1 436 640M498 572A500 500 0 0 0 541 606M498 572A500 500 0 0 1 556 535M498 572A500 500 0 0 0 589 496M498 572A500 500 0 0 1 598 565M498 572A500 500 0 0 0 441 532M498 572A500 500 0 0 1 505 615M498 572A500 500 0 0 0 490 645M498 572A500 500 0 0 1 658 582M498 572A500 500 0 0 0 585 521M498 572A500 500 0 0 1 480 505"/>
<path class="eg" d="M545 798A500 500 0 0 1 521 785M545 798A500 500 0 0 0 474 858M545 798A500 500 0 0 1 450 826M545 798A500 500 0 0 0 453 773M545 798A500 500 0 0 1 404 772M545 798A500 500 0 0 0 600 752M545 798A500 500 0 0 1 640 800M545 798A500 500 0 0 0 540 731M545 798A500 500 0 0 1 510 735M545 798A500 500 0 0 0 575 760M545 798A500 500 0 0 1 470 770M545 798A500 500 0 0 0 440 760M545 798A500 500 0 0 1 408 808M545 798A500 500 0 0 0 601 836M450 826A500 500 0 0 1 453 773M450 826A500 500 0 0 0 377 866M450 826A500 500 0 0 1 370 888M450 826A500 500 0 0 0 420 927M450 826A500 500 0 0 1 408 808M450 826A500 500 0 0 0 474 858M450 826A500 500 0 0 1 404 772M450 826A500 500 0 0 0 358 774M450 826A500 500 0 0 1 440 760M379 1080A120 120 0 0 1 494 1017M379 1080A500 500 0 0 1 385 1008M385 1008A500 500 0 0 0 391 953M356 985A500 500 0 0 1 335 958M385 1008A500 500 0 0 1 481 912M356 985A500 500 0 0 0 391 953M335 958A500 500 0 0 1 370 888"/>
</g>
<g id="unlabeled-nodes">
<circle class="b" cx="326" cy="152" r="8"/><circle class="b" cx="351" cy="155" r="7"/><circle class="b" cx="250" cy="218" r="7"/><circle class="b" cx="287" cy="219" r="7"/><circle class="b" cx="336" cy="192" r="8"/><circle class="b" cx="364" cy="233" r="7"/><circle class="b" cx="298" cy="272" r="7"/><circle class="b" cx="268" cy="295" r="7"/><circle class="b" cx="285" cy="309" r="8"/><circle class="b" cx="256" cy="334" r="7"/><circle class="b" cx="354" cy="340" r="10"/><circle class="b" cx="371" cy="341" r="7"/><circle class="b" cx="321" cy="357" r="7"/>
<circle class="b" cx="466" cy="216" r="9"/><circle class="b" cx="548" cy="245" r="9"/><circle class="b" cx="537" cy="240" r="8"/><circle class="b" cx="604" cy="258" r="10"/><circle class="b" cx="521" cy="286" r="9"/><circle class="b" cx="497" cy="301" r="8"/><circle class="b" cx="478" cy="307" r="8"/><circle class="b" cx="408" cy="307" r="8"/><circle class="b" cx="629" cy="317" r="7"/><circle class="b" cx="668" cy="321" r="10"/><circle class="b" cx="690" cy="303" r="8"/><circle class="b" cx="697" cy="344" r="7"/><circle class="b" cx="620" cy="366" r="9"/><circle class="b" cx="741" cy="367" r="8"/><circle class="b" cx="571" cy="188" r="8"/><circle class="b" cx="617" cy="184" r="8"/><circle class="b" cx="720" cy="172" r="7"/><circle class="b" cx="833" cy="182" r="7"/><circle class="b" cx="897" cy="199" r="7"/><circle class="b" cx="966" cy="211" r="7"/><circle class="b" cx="920" cy="232" r="7"/><circle class="b" cx="951" cy="249" r="8"/><circle class="b" cx="942" cy="274" r="8"/><circle class="b" cx="1015" cy="257" r="9"/><circle class="b" cx="788" cy="222" r="8"/><circle class="b" cx="745" cy="270" r="8"/><circle class="b" cx="759" cy="276" r="8"/><circle class="b" cx="858" cy="370" r="9"/><circle class="b" cx="476" cy="378" r="8"/><circle class="b" cx="585" cy="386" r="7"/><circle class="b" cx="335" cy="398" r="7"/><circle class="b" cx="347" cy="397" r="7"/><circle class="b" cx="404" cy="435" r="7"/><circle class="b" cx="459" cy="419" r="8"/><circle class="b" cx="547" cy="491" r="9"/><circle class="b" cx="411" cy="535" r="8"/><circle class="b" cx="517" cy="546" r="8"/><circle class="b" cx="780" cy="536" r="6"/><circle class="b" cx="280" cy="452" r="7"/><circle class="b" cx="244" cy="476" r="7"/><circle class="b" cx="735" cy="72" r="6"/><circle class="b" cx="797" cy="65" r="7"/><circle class="b" cx="661" cy="112" r="7"/><circle class="b" cx="771" cy="115" r="7"/><circle class="b" cx="915" cy="102" r="7"/><circle class="b" cx="694" cy="166" r="7"/><circle class="b" cx="453" cy="127" r="7"/><circle class="b" cx="660" cy="235" r="8"/><circle class="b" cx="480" cy="258" r="8"/><circle class="b" cx="530" cy="290" r="7"/><circle class="b" cx="583" cy="246" r="9"/>
<circle class="g" cx="211" cy="389" r="7"/><circle class="g" cx="276" cy="377" r="9"/><circle class="g" cx="222" cy="463" r="7"/><circle class="g" cx="207" cy="477" r="7"/><circle class="g" cx="329" cy="470" r="7"/><circle class="g" cx="373" cy="435" r="8"/><circle class="g" cx="385" cy="480" r="9"/><circle class="g" cx="461" cy="470" r="9"/><circle class="g" cx="410" cy="495" r="8"/><circle class="g" cx="421" cy="517" r="11"/><circle class="g" cx="600" cy="476" r="7"/><circle class="g" cx="265" cy="534" r="9"/><circle class="g" cx="213" cy="537" r="7"/><circle class="g" cx="228" cy="535" r="7"/><circle class="g" cx="256" cy="570" r="8"/><circle class="g" cx="222" cy="596" r="7"/><circle class="g" cx="20" cy="581" r="7"/><circle class="g" cx="55" cy="573" r="7"/><circle class="g" cx="56" cy="556" r="7"/><circle class="g" cx="102" cy="686" r="7"/><circle class="g" cx="127" cy="721" r="7"/><circle class="g" cx="195" cy="706" r="7"/><circle class="g" cx="380" cy="665" r="9"/><circle class="g" cx="339" cy="630" r="8"/><circle class="g" cx="320" cy="636" r="8"/><circle class="g" cx="296" cy="632" r="8"/><circle class="g" cx="349" cy="690" r="9"/><circle class="g" cx="310" cy="730" r="9"/><circle class="g" cx="281" cy="798" r="9"/><circle class="g" cx="308" cy="830" r="8"/><circle class="g" cx="404" cy="772" r="8"/><circle class="g" cx="408" cy="808" r="9"/><circle class="g" cx="441" cy="942" r="8"/><circle class="g" cx="436" cy="905" r="9"/><circle class="g" cx="523" cy="886" r="8"/><circle class="g" cx="597" cy="943" r="9"/><circle class="g" cx="641" cy="1012" r="7"/><circle class="g" cx="614" cy="775" r="8"/><circle class="g" cx="631" cy="775" r="8"/><circle class="g" cx="640" cy="800" r="8"/><circle class="g" cx="521" cy="785" r="10"/><circle class="g" cx="541" cy="606" r="9"/><circle class="g" cx="505" cy="615" r="10"/><circle class="g" cx="490" cy="645" r="11"/><circle class="g" cx="629" cy="630" r="8"/><circle class="g" cx="614" cy="672" r="8"/><circle class="g" cx="658" cy="582" r="7"/><circle class="g" cx="664" cy="651" r="7"/><circle class="g" cx="178" cy="820" r="7"/><circle class="g" cx="166" cy="906" r="7"/><circle class="g" cx="314" cy="896" r="7"/><circle class="g" cx="307" cy="920" r="7"/><circle class="g" cx="400" cy="980" r="7"/><circle class="g" cx="714" cy="982" r="7"/><circle class="g" cx="783" cy="939" r="7"/><circle class="g" cx="773" cy="455" r="7"/><circle class="g" cx="381" cy="545" r="8"/><circle class="g" cx="356" cy="594" r="7"/><circle class="g" cx="327" cy="590" r="7"/><circle class="g" cx="345" cy="700" r="8"/><circle class="g" cx="300" cy="760" r="8"/><circle class="g" cx="388" cy="700" r="8"/><circle class="g" cx="440" cy="760" r="9"/><circle class="g" cx="470" cy="770" r="8"/><circle class="g" cx="500" cy="690" r="8"/><circle class="g" cx="510" cy="735" r="9"/><circle class="g" cx="575" cy="760" r="8"/><circle class="g" cx="612" cy="738" r="9"/><circle class="g" cx="660" cy="560" r="7"/><circle class="g" cx="640" cy="610" r="8"/><circle class="g" cx="700" cy="730" r="8"/><circle class="g" cx="550" cy="880" r="8"/><circle class="g" cx="600" cy="925" r="9"/><circle class="g" cx="655" cy="955" r="8"/><circle class="g" cx="682" cy="958" r="7"/><circle class="g" cx="700" cy="900" r="7"/><circle class="g" cx="687" cy="910" r="7"/><circle class="g" cx="390" cy="470" r="8"/><circle class="g" cx="355" cy="500" r="8"/><circle class="g" cx="496" cy="334" r="8"/><circle class="g" cx="847" cy="766" r="7"/><circle class="g" cx="762" cy="915" r="8"/><circle class="g" cx="355" cy="800" r="8"/><circle class="g" cx="360" cy="845" r="8"/><circle class="g" cx="430" cy="870" r="8"/><circle class="g" cx="390" cy="920" r="8"/><circle class="g" cx="445" cy="700" r="8"/><circle class="g" cx="520" cy="660" r="8"/><circle class="g" cx="470" cy="620" r="8"/><circle class="g" cx="585" cy="521" r="9"/>
<circle class="y" cx="517" cy="502" r="9"/><circle class="y" cx="554" cy="518" r="8"/><circle class="y" cx="769" cy="637" r="11"/><circle class="y" cx="761" cy="604" r="7"/><circle class="y" cx="872" cy="629" r="7"/><circle class="y" cx="516" cy="641" r="7"/><circle class="y" cx="564" cy="714" r="7"/><circle class="y" cx="725" cy="720" r="8"/><circle class="y" cx="614" cy="780" r="7"/><circle class="y" cx="830" cy="737" r="6"/><circle class="y" cx="956" cy="786" r="7"/><circle class="y" cx="1021" cy="828" r="6"/><circle class="y" cx="741" cy="893" r="7"/><circle class="y" cx="718" cy="897" r="7"/><circle class="y" cx="693" cy="882" r="6"/><circle class="y" cx="704" cy="915" r="6"/><circle class="y" cx="745" cy="965" r="7"/><circle class="y" cx="720" cy="955" r="7"/><circle class="y" cx="647" cy="940" r="7"/><circle class="y" cx="641" cy="859" r="7"/><circle class="y" cx="626" cy="873" r="7"/><circle class="y" cx="753" cy="846" r="7"/><circle class="y" cx="451" cy="884" r="6"/><circle class="y" cx="540" cy="947" r="6"/><circle class="y" cx="576" cy="972" r="7"/><circle class="y" cx="810" cy="940" r="7"/><circle class="y" cx="802" cy="916" r="6"/>
<circle class="r" cx="1222" cy="239" r="7"/><circle class="r" cx="1145" cy="252" r="7"/><circle class="r" cx="1253" cy="275" r="7"/><circle class="r" cx="1205" cy="262" r="7"/><circle class="r" cx="1165" cy="283" r="7"/><circle class="r" cx="1285" cy="342" r="7"/><circle class="r" cx="1236" cy="412" r="8"/><circle class="r" cx="1160" cy="340" r="8"/><circle class="r" cx="1150" cy="345" r="9"/><circle class="r" cx="1075" cy="260" r="9"/><circle class="r" cx="997" cy="352" r="8"/><circle class="r" cx="908" cy="337" r="9"/><circle class="r" cx="1066" cy="395" r="10"/><circle class="r" cx="1107" cy="390" r="7"/><circle class="r" cx="1045" cy="427" r="7"/><circle class="r" cx="1085" cy="443" r="7"/><circle class="r" cx="1163" cy="470" r="8"/><circle class="r" cx="1190" cy="480" r="8"/><circle class="r" cx="1230" cy="481" r="9"/><circle class="r" cx="1250" cy="440" r="7"/><circle class="r" cx="1297" cy="430" r="8"/><circle class="r" cx="1315" cy="439" r="7"/><circle class="r" cx="1351" cy="405" r="11"/><circle class="r" cx="1395" cy="448" r="9"/><circle class="r" cx="1403" cy="446" r="8"/><circle class="r" cx="1387" cy="470" r="7"/><circle class="r" cx="1410" cy="470" r="7"/><circle class="r" cx="1472" cy="477" r="8"/><circle class="r" cx="1391" cy="544" r="8"/><circle class="r" cx="1349" cy="512" r="7"/><circle class="r" cx="1298" cy="532" r="8"/><circle class="r" cx="1319" cy="553" r="8"/><circle class="r" cx="1360" cy="560" r="7"/><circle class="r" cx="1382" cy="570" r="8"/><circle class="r" cx="1460" cy="555" r="8"/><circle class="r" cx="1419" cy="545" r="8"/><circle class="r" cx="1457" cy="646" r="7"/><circle class="r" cx="1428" cy="719" r="7"/><circle class="r" cx="1393" cy="740" r="7"/><circle class="r" cx="1356" cy="727" r="7"/><circle class="r" cx="1352" cy="766" r="7"/><circle class="r" cx="1336" cy="760" r="7"/><circle class="r" cx="1316" cy="762" r="8"/><circle class="r" cx="1300" cy="704" r="8"/><circle class="r" cx="1296" cy="730" r="8"/><circle class="r" cx="1233" cy="690" r="8"/><circle class="r" cx="1197" cy="690" r="8"/><circle class="r" cx="1213" cy="660" r="7"/><circle class="r" cx="1156" cy="650" r="8"/><circle class="r" cx="1120" cy="660" r="8"/><circle class="r" cx="1090" cy="680" r="7"/><circle class="r" cx="1080" cy="650" r="9"/><circle class="r" cx="1040" cy="650" r="7"/><circle class="r" cx="1037" cy="709" r="7"/><circle class="r" cx="1000" cy="720" r="7"/><circle class="r" cx="994" cy="775" r="7"/><circle class="r" cx="1110" cy="720" r="8"/><circle class="r" cx="1116" cy="690" r="7"/><circle class="r" cx="1131" cy="640" r="7"/><circle class="r" cx="1206" cy="601" r="8"/><circle class="r" cx="1193" cy="580" r="8"/><circle class="r" cx="1158" cy="558" r="8"/><circle class="r" cx="1143" cy="526" r="9"/><circle class="r" cx="1109" cy="530" r="8"/><circle class="r" cx="1116" cy="485" r="7"/><circle class="r" cx="1040" cy="510" r="7"/><circle class="r" cx="1001" cy="550" r="7"/><circle class="r" cx="990" cy="578" r="8"/><circle class="r" cx="962" cy="565" r="8"/><circle class="r" cx="1050" cy="578" r="8"/><circle class="r" cx="1089" cy="576" r="8"/><circle class="r" cx="1078" cy="596" r="7"/><circle class="r" cx="919" cy="613" r="7"/><circle class="r" cx="852" cy="482" r="7"/><circle class="r" cx="864" cy="454" r="7"/><circle class="r" cx="1318" cy="790" r="7"/><circle class="r" cx="1240" cy="790" r="8"/><circle class="r" cx="1220" cy="800" r="7"/><circle class="r" cx="1190" cy="810" r="7"/><circle class="r" cx="1270" cy="860" r="7"/><circle class="r" cx="1300" cy="850" r="7"/><circle class="r" cx="1304" cy="887" r="8"/><circle class="r" cx="1258" cy="923" r="7"/><circle class="r" cx="1168" cy="945" r="8"/><circle class="r" cx="1135" cy="934" r="8"/><circle class="r" cx="1093" cy="968" r="10"/><circle class="r" cx="1001" cy="978" r="7"/><circle class="r" cx="1011" cy="955" r="7"/><circle class="r" cx="958" cy="951" r="8"/><circle class="r" cx="940" cy="960" r="7"/><circle class="r" cx="1107" cy="900" r="8"/><circle class="r" cx="1070" cy="893" r="8"/><circle class="r" cx="1064" cy="857" r="8"/><circle class="r" cx="1108" cy="860" r="7"/><circle class="r" cx="1143" cy="860" r="7"/><circle class="r" cx="1200" cy="880" r="7"/><circle class="r" cx="1099" cy="1032" r="7"/><circle class="r" cx="1509" cy="957" r="7"/><circle class="r" cx="1020" cy="890" r="9"/><circle class="r" cx="1005" cy="860" r="8"/><circle class="r" cx="990" cy="850" r="7"/><circle class="r" cx="960" cy="905" r="8"/><circle class="r" cx="980" cy="940" r="9"/><circle class="r" cx="905" cy="878" r="7"/><circle class="r" cx="870" cy="902" r="11"/><circle class="r" cx="1312" cy="257" r="7"/><circle class="r" cx="1487" cy="919" r="7"/><circle class="r" cx="893" cy="938" r="7"/><circle class="r" cx="1020" cy="405" r="7"/><circle class="r" cx="1335" cy="452" r="7"/><circle class="r" cx="1250" cy="530" r="9"/><circle class="r" cx="1230" cy="560" r="8"/><circle class="r" cx="1300" cy="580" r="8"/><circle class="r" cx="1330" cy="600" r="8"/><circle class="r" cx="1200" cy="710" r="8"/><circle class="r" cx="1220" cy="760" r="8"/><circle class="r" cx="1280" cy="780" r="8"/><circle class="r" cx="1160" cy="690" r="7"/><circle class="r" cx="1100" cy="600" r="7"/><circle class="r" cx="1150" cy="590" r="8"/><circle class="r" cx="1428" cy="640" r="7"/>
</g>
<g id="nodes">
<g id="n-kg-m"><circle class="b" cx="805" cy="20" r="6"/><text class="s" x="803" y="19">kg m</text></g>
<g id="n-canopy-bulk-density"><circle class="b" cx="720" cy="62" r="6"/><text class="s" x="715" y="63">canopy bulk density</text></g>
<g id="n-kw-m"><circle class="b" cx="648" cy="99" r="6"/><text class="s" x="648" y="99">kw m</text></g>
<g id="n-crown-fire-initiation"><circle class="b" cx="744" cy="100" r="6"/><text class="s" x="746" y="99">crown fire initiation</text></g>
<g id="n-flame-height"><circle class="b" cx="694" cy="124" r="7"/><text class="s" x="690" y="122">flame height</text></g>
<g id="n-bulk-density"><circle class="b" cx="811" cy="137" r="7"/><text class="s" x="783" y="129">bulk density</text></g>
<g id="n-surface-fuel"><circle class="b" cx="877" cy="124" r="8"/><text class="m" x="880" y="123">surface fuel</text></g>
<g id="n-duff"><circle class="b" cx="955" cy="98" r="6"/><text class="s" x="955" y="97">duff</text></g>
<g id="n-fuel-loading"><circle class="b" cx="980" cy="154" r="6"/><text class="s" x="982" y="154">fuel loading</text></g>
<g id="n-experimental-study"><circle class="b" cx="553" cy="110" r="6"/><text class="s" x="555" y="111">experimental study</text></g>
<g id="n-fuel-bed"><circle class="b" cx="447" cy="119" r="8"/><text class="m" x="450" y="120">fuel bed</text></g>
<g id="n-heat-flux"><circle class="b" cx="364" cy="160" r="7"/><text class="s" x="390" y="157">heat flux</text></g>
<g id="n-fire-rate"><circle class="b" cx="506" cy="172" r="7"/><text class="s" x="506" y="172">fire rate</text></g>
<g id="n-tree-crown"><circle class="b" cx="682" cy="160" r="6"/><text class="s" x="681" y="158">tree crown</text></g>
<g id="n-crown-fire"><circle class="b" cx="782" cy="162" r="9"/><text class="m" x="782" y="160">crown fire</text></g>
<g id="n-combustion"><circle class="b" cx="507" cy="199" r="10"/><text class="m" x="507" y="197">combustion</text></g>
<g id="n-fuel-characteristic"><circle class="b" cx="717" cy="197" r="7"/><text class="m" x="715" y="194">fuel characteristic</text></g>
<g id="n-flame"><circle class="b" cx="377" cy="205" r="9"/><text class="m" x="377" y="204">flame</text></g>
<g id="n-physics"><circle class="b" cx="311" cy="218" r="7"/><text class="s" x="310" y="216">physics</text></g>
<g id="n-equation"><circle class="b" cx="431" cy="238" r="9"/><text class="m" x="433" y="239">equation</text></g>
<g id="n-physical-model"><circle class="b" cx="214" cy="249" r="7"/><text class="s" x="214" y="248">physical model</text></g>
<g id="n-surface-fire"><circle class="b" cx="810" cy="214" r="8"/><text class="m" x="818" y="222">surface fire</text></g>
<g id="n-mill"><circle class="b" cx="989" cy="221" r="7"/><text class="s" x="987" y="218">mill</text></g>
<g id="n-fire-behaviour"><circle class="b" cx="578" cy="256" r="13"/><text class="l" x="571" y="256">fire behaviour</text></g>
<g id="n-fire-behavior"><circle class="b" cx="705" cy="248" r="12"/><text class="l" x="704" y="242">fire behavior</text></g>
<g id="n-height"><circle class="b" cx="792" cy="253" r="9"/><text class="m" x="793" y="253">height</text></g>
<g id="n-fuel-load"><circle class="b" cx="862" cy="248" r="11"/><text class="l" x="870" y="250">fuel load</text></g>
<g id="n-wind-speed"><circle class="b" cx="446" cy="266" r="9"/><text class="m" x="463" y="266">wind speed</text></g>
<g id="n-mass"><circle class="b" cx="709" cy="272" r="6"/><text class="s" x="709" y="270">mass</text></g>
<g id="n-ros"><circle class="b" cx="342" cy="278" r="7"/><text class="s" x="342" y="277">ros</text></g>
<g id="n-canopy"><circle class="b" cx="998" cy="271" r="9"/><text class="m" x="1001" y="273">canopy</text></g>
<g id="n-crown"><circle class="b" cx="914" cy="282" r="8"/><text class="s" x="915" y="282">crown</text></g>
<g id="n-energy"><circle class="b" cx="430" cy="300" r="8"/><text class="m" x="440" y="302">energy</text></g>
<g id="n-flow"><circle class="b" cx="556" cy="307" r="9"/><text class="m" x="557" y="306">flow</text></g>
<g id="n-experiment"><circle class="b" cx="672" cy="298" r="12"/><text class="l" x="670" y="295">experiment</text></g>
<g id="n-fire-intensity"><circle class="b" cx="786" cy="306" r="7"/><text class="m" x="785" y="306">fire intensity</text></g>
<g id="n-fire-front"><circle class="b" cx="235" cy="317" r="9"/><text class="m" x="237" y="316">fire front</text></g>
<g id="n-wind"><circle class="b" cx="437" cy="329" r="12"/><text class="l" x="438" y="329">wind</text></g>
<g id="n-burn"><circle class="b" cx="913" cy="326" r="10"/><text class="m" x="914" y="324">burn</text></g>
<g id="n-mixture"><circle class="b" cx="762" cy="331" r="7"/><text class="s" x="763" y="330">mixture</text></g>
<g id="n-fraction"><circle class="b" cx="585" cy="342" r="9"/><text class="m" x="590" y="341">fraction</text></g>
<g id="n-fire-hazard"><circle class="b" cx="853" cy="347" r="9"/><text class="m" x="851" y="346">fire hazard</text></g>
<g id="n-propagation"><circle class="b" cx="360" cy="364" r="8"/><text class="m" x="362" y="363">propagation</text></g>
<g id="n-measurement"><circle class="b" cx="543" cy="378" r="11"/><text class="l" x="537" y="378">measurement</text></g>
<g id="n-fuel-condition"><circle class="b" cx="667" cy="372" r="7"/><text class="s" x="663" y="377">fuel condition</text></g>
<g id="n-degrees-c"><circle class="b" cx="857" cy="388" r="9"/><text class="m" x="860" y="386">degrees c</text></g>
<g id="n-mechanism"><circle class="b" cx="742" cy="411" r="12"/><text class="l" x="742" y="410">mechanism</text></g>
<g id="n-fire-manager"><circle class="b" cx="577" cy="419" r="7"/><text class="m" x="578" y="418">fire manager</text></g>
<g id="n-medium"><circle class="b" cx="530" cy="447" r="8"/><text class="m" x="532" y="445">medium</text></g>
<g id="n-air-temperature"><circle class="b" cx="614" cy="451" r="7"/><text class="s" x="625" y="450">air temperature</text></g>
<g id="n-co2"><circle class="b" cx="750" cy="463" r="6"/><text class="s" x="750" y="462">co2</text></g>
<g id="n-phase"><circle class="b" cx="769" cy="519" r="7"/><text class="m" x="770" y="516">phase</text></g>
<g id="n-moisture"><circle class="b" cx="783" cy="474" r="9"/><text class="m" x="809" y="474">moisture</text></g>
<g id="n-simulator"><circle class="g" cx="270" cy="400" r="8"/><text class="m" x="270" y="399">simulator</text></g>
<g id="n-fire-spread-model"><circle class="g" cx="216" cy="444" r="7"/><text class="m" x="217" y="444">fire spread model</text></g>
<g id="n-speed"><circle class="g" cx="310" cy="452" r="8"/><text class="m" x="314" y="453">speed</text></g>
<g id="n-phenomena"><circle class="g" cx="245" cy="482" r="8"/><text class="m" x="246" y="479">phenomena</text></g>
<g id="n-wildland-fire"><circle class="g" cx="430" cy="423" r="9"/><text class="m" x="430" y="423">wildland fire</text></g>
<g id="n-simulation"><circle class="g" cx="441" cy="482" r="13"/><text class="l" x="441" y="479">simulation</text></g>
<g id="n-prediction"><circle class="g" cx="330" cy="524" r="12"/><text class="l" x="331" y="521">prediction</text></g>
<g id="n-camera"><circle class="g" cx="248" cy="522" r="7"/><text class="s" x="247" y="518">camera</text></g>
<g id="n-terrain"><circle class="g" cx="441" cy="532" r="10"/><text class="m" x="444" y="528">terrain</text></g>
<g id="n-atmosphere"><circle class="g" cx="480" cy="505" r="8"/><text class="m" x="519" y="507">atmosphere</text></g>
<g id="n-field"><circle class="g" cx="589" cy="496" r="10"/><text class="ml" x="589" y="493">field</text></g>
<g id="n-detail"><circle class="g" cx="590" cy="521" r="9"/><text class="s" x="614" y="524">detail</text></g>
<g id="n-series"><circle class="g" cx="556" cy="535" r="8"/><text class="m" x="557" y="536">series</text></g>
<g id="n-input-parameter"><circle class="g" cx="90" cy="564" r="7"/><text class="s" x="89" y="556">input parameter</text></g>
<g id="n-cellular-automata"><circle class="g" cx="133" cy="587" r="7"/><text class="m" x="138" y="586">cellular automata</text></g>
<g id="n-error"><circle class="g" cx="241" cy="578" r="8"/><text class="m" x="241" y="577">error</text></g>
<g id="n-efficiency"><circle class="g" cx="384" cy="565" r="9"/><text class="m" x="397" y="566">efficiency</text></g>
<g id="n-observation"><circle class="g" cx="498" cy="572" r="12"/><text class="l" x="497" y="571">observation</text></g>
<g id="n-overview"><circle class="g" cx="598" cy="565" r="8"/><text class="s" x="594" y="563">overview</text></g>
<g id="n-solution"><circle class="g" cx="309" cy="596" r="8"/><text class="m" x="310" y="595">solution</text></g>
<g id="n-high-degree"><circle class="g" cx="391" cy="610" r="8"/><text class="s" x="408" y="611">high degree</text></g>
<g id="n-application"><circle class="g" cx="570" cy="619" r="12"/><text class="l" x="569" y="619">application</text></g>
<g id="n-bushfire"><circle class="g" cx="436" cy="640" r="8"/><text class="s" x="436" y="639">bushfire</text></g>
<g id="n-input-data"><circle class="g" cx="166" cy="638" r="7"/><text class="s" x="167" y="637">input data</text></g>
<g id="n-methodology"><circle class="g" cx="284" cy="654" r="11"/><text class="l" x="284" y="654">methodology</text></g>
<g id="n-real-time"><circle class="g" cx="125" cy="666" r="7"/><text class="m" x="127" y="666">real time</text></g>
<g id="n-evaluation"><circle class="g" cx="387" cy="673" r="9"/><text class="m" x="388" y="672">evaluation</text></g>
<g id="n-science"><circle class="g" cx="678" cy="661" r="8"/><text class="m" x="677" y="661">science</text></g>
<g id="n-smoke"><circle class="y" cx="556" cy="678" r="9"/><text class="m" x="557" y="679">smoke</text></g>
<g id="n-sensor"><circle class="g" cx="218" cy="700" r="9"/><text class="m" x="216" y="697">sensor</text></g>
<g id="n-lfmc"><circle class="g" cx="262" cy="700" r="7"/><text class="m" x="265" y="697">lfmc</text></g>
<g id="n-rule"><circle class="g" cx="404" cy="694" r="8"/><text class="s" x="398" y="694">rule</text></g>
<g id="n-output"><circle class="g" cx="469" cy="700" r="9"/><text class="m" x="474" y="699">output</text></g>
<g id="n-accuracy"><circle class="g" cx="263" cy="726" r="11"/><text class="l" x="265" y="727">accuracy</text></g>
<g id="n-imagery"><circle class="g" cx="404" cy="727" r="8"/><text class="m" x="404" y="727">imagery</text></g>
<g id="n-decision-making"><circle class="g" cx="540" cy="731" r="9"/><text class="m" x="506" y="730">decision making</text></g>
<g id="n-february"><circle class="g" cx="600" cy="720" r="7"/><text class="s" x="604" y="717">february</text></g>
<g id="n-cost"><circle class="g" cx="708" cy="710" r="9"/><text class="m" x="708" y="709">cost</text></g>
<g id="n-fire-weather"><circle class="g" cx="778" cy="702" r="10"/><text class="m" x="791" y="695">fire weather</text></g>
<g id="n-unmanned-aerial-vehicle"><circle class="g" cx="108" cy="741" r="7"/><text class="s" x="108" y="741">unmanned aerial vehicle</text></g>
<g id="n-user"><circle class="g" cx="336" cy="744" r="7"/><text class="s" x="337" y="744">user</text></g>
<g id="n-decision"><circle class="g" cx="600" cy="752" r="10"/><text class="m" x="603" y="752">decision</text></g>
<g id="n-integration"><circle class="g" cx="358" cy="774" r="8"/><text class="s" x="358" y="774">integration</text></g>
<g id="n-station"><circle class="g" cx="453" cy="773" r="8"/><text class="m" x="452" y="772">station</text></g>
<g id="n-algorithm"><circle class="g" cx="247" cy="790" r="12"/><text class="l" x="245" y="790">algorithm</text></g>
<g id="n-case-study"><circle class="g" cx="545" cy="798" r="12"/><text class="l" x="544" y="800">case study</text></g>
<g id="n-forest-fire-detection"><circle class="g" cx="108" cy="804" r="7"/><text class="s" x="108" y="803">forest fire detection</text></g>
<g id="n-monitoring"><circle class="g" cx="450" cy="826" r="9"/><text class="m" x="449" y="825">monitoring</text></g>
<g id="n-index"><circle class="g" cx="601" cy="836" r="12"/><text class="l" x="602" y="835">index</text></g>
<g id="n-fire-season"><circle class="g" cx="728" cy="823" r="9"/><text class="m" x="727" y="823">fire season</text></g>
<g id="n-natural-hazard"><circle class="g" cx="292" cy="836" r="7"/><text class="s" x="290" y="835">natural hazard</text></g>
<g id="n-disaster"><circle class="g" cx="377" cy="866" r="9"/><text class="m" x="379" y="864">disaster</text></g>
<g id="n-fire-danger"><circle class="g" cx="474" cy="858" r="9"/><text class="m" x="475" y="857">fire danger</text></g>
<g id="n-urban-interface"><circle class="g" cx="700" cy="848" r="7"/><text class="s" x="701" y="848">urban interface</text></g>
<g id="n-mapping"><circle class="g" cx="370" cy="888" r="9"/><text class="m" x="368" y="890">mapping</text></g>
<g id="n-fire-detection"><circle class="g" cx="230" cy="894" r="8"/><text class="s" x="228" y="893">fire detection</text></g>
<g id="n-prevention"><circle class="g" cx="623" cy="884" r="9"/><text class="m" x="624" y="883">prevention</text></g>
<g id="n-pollution"><circle class="y" cx="765" cy="889" r="7"/><text class="s" x="761" y="888">pollution</text></g>
<g id="n-autumn"><circle class="y" cx="809" cy="884" r="7"/><text class="s" x="820" y="885">autumn</text></g>
<g id="n-machine"><circle class="g" cx="257" cy="928" r="8"/><text class="m" x="257" y="927">machine</text></g>
<g id="n-gis"><circle class="g" cx="420" cy="927" r="9"/><text class="m" x="420" y="927">gis</text></g>
<g id="n-map"><circle class="g" cx="481" cy="912" r="13"/><text class="l" x="482" y="910">map</text></g>
<g id="n-database"><circle class="g" cx="569" cy="918" r="9"/><text class="m" x="567" y="918">database</text></g>
<g id="n-may"><circle class="y" cx="738" cy="916" r="8"/><text class="s" x="738" y="916">may</text></g>
<g id="n-province"><circle class="g" cx="666" cy="942" r="9"/><text class="m" x="666" y="943">province</text></g>
<g id="n-active-fire"><circle class="g" cx="335" cy="958" r="7"/><text class="s" x="326" y="958">active fire</text></g>
<g id="n-fwi"><circle class="g" cx="391" cy="953" r="7"/><text class="s" x="391" y="950">fwi</text></g>
<g id="n-road"><circle class="g" cx="744" cy="960" r="9"/><text class="m" x="746" y="959">road</text></g>
<g id="n-hotspot"><circle class="g" cx="836" cy="962" r="9"/><text class="s" x="798" y="963">hotspot</text></g>
<g id="n-forest-fire-risk"><circle class="g" cx="524" cy="974" r="7"/><text class="s" x="545" y="966">forest fire risk</text></g>
<g id="n-modis"><circle class="g" cx="356" cy="985" r="7"/><text class="s" x="358" y="984">modis</text></g>
<g id="n-economy"><circle class="g" cx="771" cy="988" r="7"/><text class="s" x="773" y="989">economy</text></g>
<g id="n-ndvi"><circle class="g" cx="385" cy="1008" r="7"/><text class="s" x="385" y="1007">ndvi</text></g>
<g id="n-curve"><circle class="g" cx="494" cy="1017" r="6"/><text class="s" x="494" y="1014">curve</text></g>
<g id="n-urban-area"><circle class="g" cx="643" cy="1022" r="7"/><text class="s" x="644" y="1023">urban area</text></g>
<g id="n-land-cover"><circle class="g" cx="763" cy="1021" r="8"/><text class="m" x="764" y="1019">land cover</text></g>
<g id="n-roc"><circle class="g" cx="307" cy="1067" r="6"/><text class="s" x="307" y="1066">roc</text></g>
<g id="n-auc"><circle class="g" cx="379" cy="1080" r="6"/><text class="s" x="379" y="1081">auc</text></g>
<g id="n-mu-m"><circle class="y" cx="686" cy="781" r="6"/><text class="s" x="686" y="781">mu m</text></g>
<g id="n-june"><circle class="y" cx="802" cy="737" r="6"/><text class="s" x="802" y="737">june</text></g>
<g id="n-catalonia"><circle class="r" cx="870" cy="733" r="7"/><text class="s" x="870" y="732">catalonia</text></g>
<g id="n-homespring"><circle class="y" cx="897" cy="767" r="8"/><text class="s" x="876" y="766">homespring</text></g>
<g id="n-lightning"><circle class="g" cx="867" cy="938" r="7"/><text class="s" x="892" y="936">lightning</text></g>
<g id="n-emission"><circle class="y" cx="729" cy="616" r="9"/><text class="m" x="730" y="614">emission</text></g>
<g id="n-week"><circle class="y" cx="827" cy="644" r="6"/><text class="s" x="827" y="644">week</text></g>
<g id="n-peat"><circle class="y" cx="956" cy="724" r="7"/><text class="s" x="956" y="724">peat</text></g>
<g id="n-future-climate"><circle class="y" cx="927" cy="915" r="7"/><text class="s" x="993" y="913">future climate</text></g>
<g id="n-south-america"><circle class="y" cx="968" cy="986" r="7"/><text class="s" x="970" y="985">south america</text></g>
<g id="n-peatland"><circle class="y" cx="1000" cy="842" r="7"/><text class="s" x="1008" y="842">peatland</text></g>
<g id="n-lodgepole-pine"><circle class="r" cx="1180" cy="184" r="7"/><text class="s" x="1180" y="183">lodgepole pine</text></g>
<g id="n-bark"><circle class="b" cx="1074" cy="197" r="7"/><text class="s" x="1075" y="196">bark</text></g>
<g id="n-thinning"><circle class="r" cx="1177" cy="232" r="9"/><text class="m" x="1168" y="228">thinning</text></g>
<g id="n-dead-tree"><circle class="r" cx="1279" cy="256" r="7"/><text class="s" x="1286" y="255">dead tree</text></g>
<g id="n-stem"><circle class="r" cx="1181" cy="268" r="7"/><text class="s" x="1185" y="268">stem</text></g>
<g id="n-treatment"><circle class="r" cx="1094" cy="273" r="12"/><text class="ml" x="1085" y="270">treatment</text></g>
<g id="n-ponderosa-pine"><circle class="r" cx="1294" cy="296" r="7"/><text class="s" x="1291" y="295">ponderosa pine</text></g>
<g id="n-stands"><circle class="r" cx="1183" cy="305" r="10"/><text class="ml" x="1191" y="304">stands</text></g>
<g id="n-prescribed-fire"><circle class="r" cx="1005" cy="310" r="9"/><text class="m" x="1031" y="307">prescribed fire</text></g>
<g id="n-plot"><circle class="r" cx="1115" cy="312" r="12"/><text class="l" x="1115" y="311">plot</text></g>
<g id="n-tree-density"><circle class="r" cx="1365" cy="336" r="7"/><text class="s" x="1367" y="335">tree density</text></g>
<g id="n-removal"><circle class="r" cx="1194" cy="337" r="9"/><text class="m" x="1218" y="337">removal</text></g>
<g id="n-pine-forest"><circle class="r" cx="1027" cy="335" r="9"/><text class="m" x="1042" y="336">pine forest</text></g>
<g id="n-mortality"><circle class="r" cx="1180" cy="372" r="10"/><text class="m" x="1201" y="366">mortality</text></g>
<g id="n-sapling"><circle class="r" cx="1400" cy="376" r="7"/><text class="s" x="1402" y="375">sapling</text></g>
<g id="n-seedling"><circle class="r" cx="1450" cy="411" r="7"/><text class="m" x="1452" y="410">seedling</text></g>
<g id="n-root"><circle class="r" cx="1063" cy="413" r="8"/><text class="s" x="1059" y="410">root</text></g>
<g id="n-shrub"><circle class="r" cx="1130" cy="414" r="9"/><text class="m" x="1116" y="409">shrub</text></g>
<g id="n-trees"><circle class="r" cx="1185" cy="414" r="12"/><text class="ml" x="1191" y="413">trees</text></g>
<g id="n-oregon"><circle class="r" cx="1263" cy="420" r="8"/><text class="s" x="1270" y="421">oregon</text></g>
<g id="n-survival"><circle class="r" cx="1346" cy="428" r="8"/><text class="m" x="1348" y="429">survival</text></g>
<g id="n-further-study"><circle class="r" cx="1054" cy="444" r="7"/><text class="s" x="1051" y="438">further study</text></g>
<g id="n-outbreak"><circle class="r" cx="1147" cy="457" r="9"/><text class="m" x="1154" y="456">outbreak</text></g>
<g id="n-resistance"><circle class="r" cx="1277" cy="465" r="9"/><text class="m" x="1280" y="463">resistance</text></g>
<g id="n-seed"><circle class="r" cx="1430" cy="479" r="8"/><text class="m" x="1430" y="477">seed</text></g>
<g id="n-wood"><circle class="r" cx="1065" cy="469" r="9"/><text class="m" x="1070" y="470">wood</text></g>
<g id="n-national-forest"><circle class="r" cx="931" cy="475" r="8"/><text class="m" x="934" y="477">national forest</text></g>
<g id="n-post"><circle class="r" cx="1021" cy="505" r="9"/><text class="s" x="1029" y="495">post</text></g>
<g id="n-cover"><circle class="r" cx="1077" cy="501" r="11"/><text class="ml" x="1077" y="498">cover</text></g>
<g id="n-grass"><circle class="r" cx="1152" cy="494" r="9"/><text class="m" x="1147" y="491">grass</text></g>
<g id="n-species"><circle class="r" cx="1272" cy="498" r="14"/><text class="l" x="1272" y="494">species</text></g>
<g id="n-richness"><circle class="r" cx="1497" cy="501" r="7"/><text class="s" x="1493" y="499">richness</text></g>
<g id="n-succession"><circle class="r" cx="1384" cy="509" r="8"/><text class="m" x="1384" y="504">succession</text></g>
<g id="n-soil"><circle class="r" cx="1074" cy="543" r="11"/><text class="ml" x="1076" y="539">soil</text></g>
<g id="n-composition"><circle class="r" cx="1190" cy="541" r="12"/><text class="l" x="1214" y="533">composition</text></g>
<g id="n-tree-species"><circle class="r" cx="1329" cy="540" r="9"/><text class="m" x="1340" y="534">tree species</text></g>
<g id="n-native-species"><circle class="r" cx="1473" cy="543" r="8"/><text class="s" x="1474" y="539">native species</text></g>
<g id="n-runoff"><circle class="r" cx="891" cy="563" r="7"/><text class="s" x="890" y="561">runoff</text></g>
<g id="n-feedback"><circle class="r" cx="1020" cy="570" r="9"/><text class="m" x="1027" y="567">feedback</text></g>
<g id="n-resilience"><circle class="r" cx="1347" cy="581" r="9"/><text class="m" x="1349" y="580">resilience</text></g>
<g id="n-abundance"><circle class="r" cx="1444" cy="575" r="9"/><text class="m" x="1442" y="573">abundance</text></g>
<g id="n-plant"><circle class="r" cx="1272" cy="600" r="11"/><text class="l" x="1274" y="596">plant</text></g>
<g id="n-herb"><circle class="r" cx="1404" cy="601" r="7"/><text class="s" x="1404" y="600">herb</text></g>
<g id="n-forest-landscape"><circle class="r" cx="1031" cy="611" r="8"/><text class="s" x="1033" y="610">forest landscape</text></g>
<g id="n-patch"><circle class="r" cx="1141" cy="614" r="10"/><text class="m" x="1139" y="606">patch</text></g>
<g id="n-age"><circle class="r" cx="1175" cy="623" r="9"/><text class="m" x="1179" y="619">age</text></g>
<g id="n-recovery"><circle class="r" cx="1225" cy="629" r="9"/><text class="m" x="1238" y="626">recovery</text></g>
<g id="n-habitat"><circle class="r" cx="1310" cy="631" r="11"/><text class="l" x="1313" y="627">habitat</text></g>
<g id="n-conservation"><circle class="r" cx="1185" cy="662" r="10"/><text class="m" x="1180" y="658">conservation</text></g>
<g id="n-disturbance"><circle class="r" cx="1291" cy="667" r="12"/><text class="l" x="1291" y="662">disturbance</text></g>
<g id="n-invasion"><circle class="r" cx="1387" cy="654" r="9"/><text class="m" x="1388" y="652">invasion</text></g>
<g id="n-health"><circle class="r" cx="1033" cy="680" r="9"/><text class="m" x="1036" y="675">health</text></g>
<g id="n-establishment"><circle class="r" cx="1412" cy="684" r="9"/><text class="m" x="1417" y="677">establishment</text></g>
<g id="n-gradient"><circle class="r" cx="1138" cy="690" r="9"/><text class="m" x="1131" y="692">gradient</text></g>
<g id="n-mountain"><circle class="r" cx="1063" cy="700" r="9"/><text class="m" x="1057" y="699">mountain</text></g>
<g id="n-population"><circle class="r" cx="1253" cy="708" r="12"/><text class="l" x="1254" y="705">population</text></g>
<g id="n-fire-regime"><circle class="r" cx="1175" cy="735" r="12"/><text class="l" x="1175" y="733">fire regime</text></g>
<g id="n-decline"><circle class="r" cx="1390" cy="737" r="8"/><text class="m" x="1389" y="737">decline</text></g>
<g id="n-mexico"><circle class="r" cx="1075" cy="760" r="8"/><text class="s" x="1068" y="757">mexico</text></g>
<g id="n-evidence"><circle class="r" cx="1265" cy="757" r="12"/><text class="l" x="1266" y="754">evidence</text></g>
<g id="n-biodiversity"><circle class="r" cx="1190" cy="765" r="11"/><text class="ml" x="1177" y="763">biodiversity</text></g>
<g id="n-taxa"><circle class="r" cx="1457" cy="777" r="7"/><text class="s" x="1457" y="776">taxa</text></g>
<g id="n-priority"><circle class="r" cx="983" cy="789" r="9"/><text class="m" x="992" y="784">priority</text></g>
<g id="n-vegetation-dynamic"><circle class="r" cx="1299" cy="805" r="8"/><text class="s" x="1341" y="802">vegetation dynamic</text></g>
<g id="n-quercus"><circle class="r" cx="1486" cy="811" r="7"/><text class="s" x="1486" y="810">quercus</text></g>
<g id="n-projection"><circle class="r" cx="910" cy="810" r="9"/><text class="m" x="915" y="808">projection</text></g>
<g id="n-africa"><circle class="r" cx="1110" cy="820" r="8"/><text class="s" x="1111" y="819">africa</text></g>
<g id="n-fragmentation"><circle class="r" cx="1140" cy="828" r="9"/><text class="m" x="1194" y="827">fragmentation</text></g>
<g id="n-history"><circle class="r" cx="1273" cy="830" r="11"/><text class="m" x="1280" y="827">history</text></g>
<g id="n-wetland"><circle class="r" cx="1345" cy="838" r="7"/><text class="s" x="1348" y="833">wetland</text></g>
<g id="n-biome"><circle class="r" cx="941" cy="850" r="7"/><text class="s" x="946" y="848">biome</text></g>
<g id="n-origin"><circle class="r" cx="1228" cy="853" r="8"/><text class="s" x="1230" y="851">origin</text></g>
<g id="n-climatic-change"><circle class="r" cx="1346" cy="863" r="7"/><text class="s" x="1350" y="859">climatic change</text></g>
<g id="n-climate"><circle class="r" cx="1044" cy="875" r="13"/><text class="l" x="1045" y="869">climate</text></g>
<g id="n-charcoal"><circle class="r" cx="1444" cy="870" r="8"/><text class="m" x="1445" y="868">charcoal</text></g>
<g id="n-fire-activity"><circle class="r" cx="938" cy="885" r="10"/><text class="m" x="952" y="883">fire activity</text></g>
<g id="n-expansion"><circle class="r" cx="1236" cy="889" r="10"/><text class="m" x="1240" y="887">expansion</text></g>
<g id="n-forest-cover"><circle class="r" cx="1112" cy="906" r="8"/><text class="s" x="1111" y="907">forest cover</text></g>
<g id="n-lake"><circle class="r" cx="1414" cy="925" r="8"/><text class="s" x="1415" y="924">lake</text></g>
<g id="n-early-holocene"><circle class="r" cx="1483" cy="936" r="9"/><text class="s" x="1506" y="921">early holocene</text></g>
<g id="n-record"><circle class="r" cx="1190" cy="937" r="11"/><text class="l" x="1201" y="935">record</text></g>
<g id="n-holocene"><circle class="r" cx="1432" cy="952" r="8"/><text class="m" x="1437" y="950">holocene</text></g>
<g id="n-land-use"><circle class="r" cx="1031" cy="950" r="11"/><text class="ml" x="1038" y="950">land use</text></g>
<g id="n-human-impact"><circle class="r" cx="1362" cy="981" r="7"/><text class="s" x="1363" y="979">human impact</text></g>
<g id="n-human-activity"><circle class="r" cx="1047" cy="1003" r="11"/><text class="m" x="1049" y="1009">human activity</text></g>
<g id="n-study-region"><circle class="r" cx="970" cy="1037" r="7"/><text class="s" x="971" y="1034">study region</text></g>
</g>
</g>
</svg>
